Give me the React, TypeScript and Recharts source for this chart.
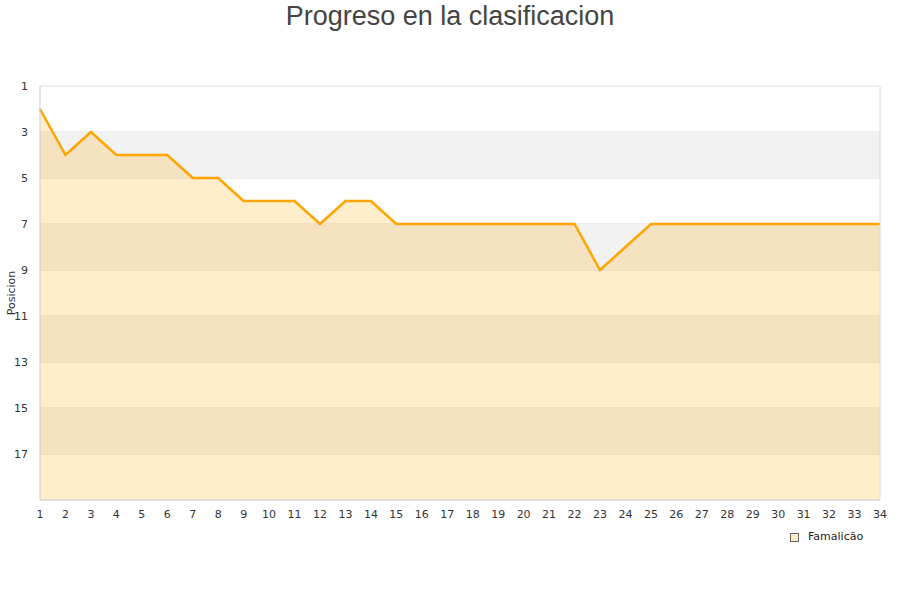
import React from 'react';
import { ComposedChart, Area, XAxis, YAxis, CartesianGrid, ReferenceArea, ReferenceLine } from 'recharts';

const jornadas = [1,2,3,4,5,6,7,8,9,10,11,12,13,14,15,16,17,18,19,20,21,22,23,24,25,26,27,28,29,30,31,32,33,34];
const posiciones = [2,4,3,4,4,4,5,5,6,6,6,7,6,6,7,7,7,7,7,7,7,7,9,8,7,7,7,7,7,7,7,7,7,7];
const yTicks = [1,3,5,7,9,11,13,15,17];
const bands: [number, number][] = [[3,5],[7,9],[11,13],[15,17]];
const seriesName = 'Famalicão';

const data = jornadas.map((j, i) => ({ j, pos: posiciones[i] }));

export default function App() {
  return (
    <div style={{ position: 'absolute', left: 0, top: 0, width: 900, height: 600, background: '#fff' }}>
      <div style={{ position: 'absolute', left: 0, top: 0, width: 900, textAlign: 'center', fontFamily: 'Liberation Sans, Arial, sans-serif', fontSize: 27, color: '#444', lineHeight: '32px' }}>
        Progreso en la clasificacion
      </div>
      <ComposedChart width={900} height={600} data={data} margin={{ top: 86, right: 20, bottom: 70, left: 0 }}>
        {bands.map(([a, b]) => (
          <ReferenceArea key={a} y1={a} y2={b} fill="#f2f2f2" fillOpacity={1} stroke="none" ifOverflow="hidden" />
        ))}
        <CartesianGrid vertical={false} stroke="#dcdcdc" strokeDasharray="" />
        <ReferenceLine x={34} stroke="#dcdcdc" />
        <XAxis dataKey="j" type="number" domain={[1, 34]} ticks={jornadas} interval={0} height={30}
          tick={{ fontSize: 11, fill: '#333', fontFamily: 'DejaVu Sans' }} tickLine={false}
          axisLine={{ stroke: '#dcdcdc' }} tickMargin={4} />
        <YAxis type="number" reversed domain={[1, 19]} ticks={yTicks} interval={0} width={40}
          tick={{ fontSize: 11, fill: '#333', fontFamily: 'DejaVu Sans' }} tickLine={false}
          axisLine={{ stroke: '#cccccc' }} tickMargin={6}
          label={{ value: 'Posicion', angle: -90, position: 'insideLeft', offset: 11, style: { fontSize: 11, fill: '#333', fontFamily: 'DejaVu Sans', textAnchor: 'middle' } }} />
        <Area type="linear" dataKey="pos" name={seriesName} baseValue={19} stroke="#FFA500" strokeWidth={2.5}
          fill="#FFA500" fillOpacity={0.2} dot={false} activeDot={false} isAnimationActive={false} />
      </ComposedChart>
      <div style={{ position: 'absolute', left: 790, top: 530, display: 'flex', alignItems: 'center', fontFamily: 'DejaVu Sans', fontSize: 11, color: '#222', lineHeight: '14px' }}>
        <span style={{ display: 'inline-block', width: 7, height: 7, background: '#FFEBC9', border: '1px solid #666', marginRight: 9 }} />
        <span>{seriesName}</span>
      </div>
    </div>
  );
}
